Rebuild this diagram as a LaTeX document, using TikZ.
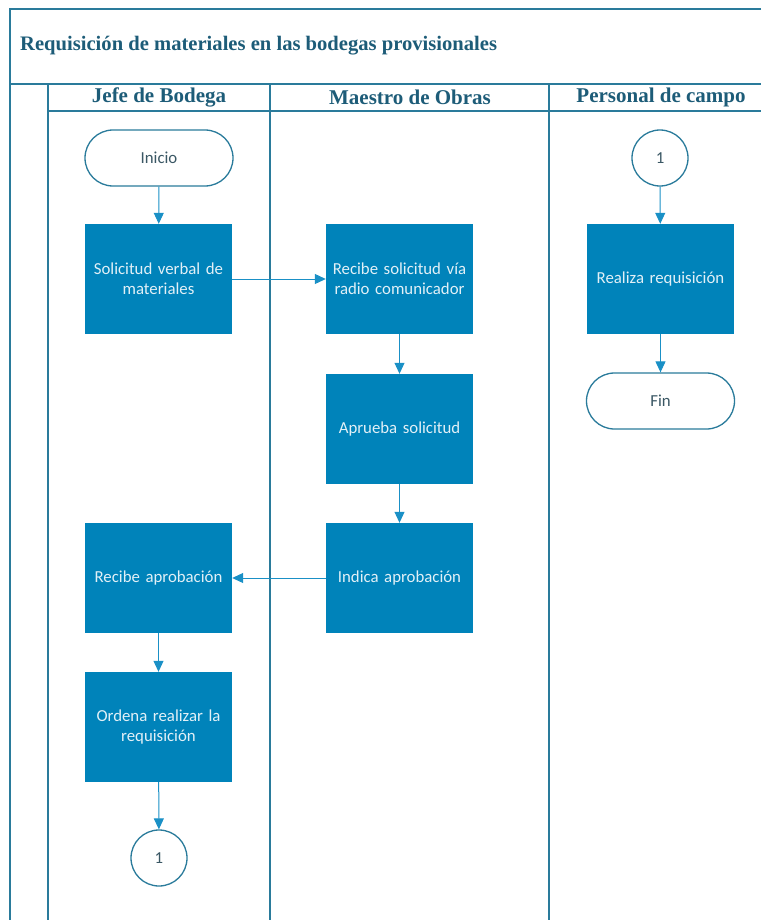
\documentclass[tikz,border=0pt]{standalone}
\usepackage{fontspec}
\setmainfont{Liberation Serif}
\newfontfamily\boxfont{Carlito}
\usetikzlibrary{arrows.meta,shapes.misc}
\definecolor{frameblue}{HTML}{2A7B9B}
\definecolor{titleblue}{HTML}{1D5C78}
\definecolor{procfill}{HTML}{0083BA}
\definecolor{arrowblue}{HTML}{1A90C6}
\definecolor{proctext}{HTML}{E2F0F7}
\definecolor{termtext}{HTML}{3A5764}
\tikzset{
  frame/.style={draw=frameblue, line width=2pt},
  procbox/.style={rectangle, fill=procfill, minimum width=147pt, minimum height=110pt,
    inner sep=0pt, text width=144pt, align=center, text=proctext,
    font=\boxfont\fontsize{16.8}{20}\selectfont},
  termbox/.style={rounded rectangle, draw=frameblue, line width=1.3pt, fill=white,
    minimum width=148pt, minimum height=56pt, inner sep=0pt, text=termtext,
    font=\boxfont\fontsize{16.8}{20}\selectfont},
  offpage/.style={circle, draw=frameblue, line width=1.3pt, fill=white,
    minimum size=56pt, inner sep=0pt, text=termtext,
    font=\boxfont\fontsize{16.8}{20}\selectfont},
  flow/.style={draw=arrowblue, line width=1pt, -{Triangle[length=11pt,width=10pt]}},
  lanehead/.style={font=\bfseries\fontsize{21}{24}\selectfont, text=titleblue}
}
\begin{document}
\begin{tikzpicture}[x=1pt,y=-1pt]
\useasboundingbox (0,0) rectangle (761,920);
% outer frame and lanes
\draw[frame] (761,9) -- (10,9) -- (10,920);
\draw[frame] (10,84) -- (761,84);
\draw[frame] (48,111) -- (761,111);
\draw[frame] (48,84) -- (48,920);
\draw[frame] (270,84) -- (270,920);
\draw[frame] (549,84) -- (549,920);
% title and lane headers
\node[anchor=west, font=\bfseries\fontsize{20.6}{24}\selectfont, text=titleblue, inner sep=0pt] (title) at (20,46) {Requisición de materiales en las bodegas provisionales};
\node[lanehead] (h1) at (159,97.5) {Jefe de Bodega};
\node[lanehead] (h2) at (410,97.5) {Maestro de Obras};
\node[lanehead] (h3) at (661,97.5) {Personal de campo};
% Jefe de Bodega
\node[termbox] (inicio) at (159,158) {Inicio};
\node[procbox] (sol) at (158.5,279) {Solicitud verbal de\\materiales};
\node[procbox] (reca) at (158.5,578) {Recibe aprobación};
\node[procbox] (ord) at (158.5,727) {Ordena realizar la\\requisición};
\node[offpage] (c1) at (159,858) {1};
% Maestro de Obras
\node[procbox] (rec) at (399.5,279) {Recibe solicitud vía\\radio comunicador};
\node[procbox] (apr) at (399.5,429) {Aprueba solicitud};
\node[procbox] (ind) at (399.5,578) {Indica aprobación};
% Personal de campo
\node[offpage] (c2) at (660,158) {1};
\node[procbox] (real) at (660.5,279) {Realiza requisición};
\node[termbox] (fin) at (660.5,401) {Fin};
% flow
\draw[flow] (inicio) -- (sol);
\draw[flow] (sol) -- (rec);
\draw[flow] (rec) -- (apr);
\draw[flow] (apr) -- (ind);
\draw[flow] (ind) -- (reca);
\draw[flow] (reca) -- (ord);
\draw[flow] (ord) -- (c1);
\draw[flow] (c2) -- (real);
\draw[flow] (real) -- (fin);
\end{tikzpicture}
\end{document}
